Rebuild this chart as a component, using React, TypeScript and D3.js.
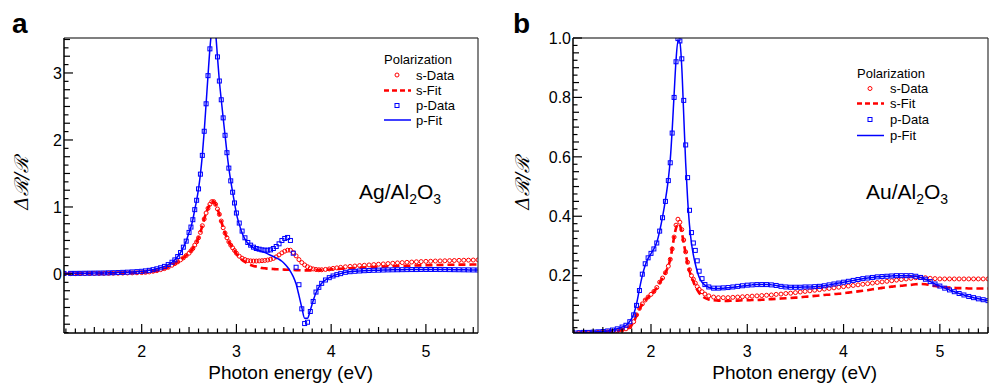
import React from "react";
import * as d3 from "d3";

// ---------------- Panel a (Ag/Al2O3) ----------------
const energiesA = [
  1.18, 1.25, 1.30, 1.35, 1.40, 1.45, 1.50, 1.55, 1.60, 1.65, 1.70, 1.75, 1.80, 1.85, 1.90, 1.95, 2.00,
  2.04, 2.08, 2.12, 2.16, 2.20, 2.24, 2.28, 2.32,
  2.35, 2.38, 2.41, 2.44, 2.47, 2.50,
  2.52, 2.54, 2.56, 2.58, 2.60, 2.62, 2.64, 2.66, 2.68, 2.70,
  2.72, 2.74, 2.76, 2.78, 2.80, 2.82, 2.84, 2.86, 2.88, 2.90,
  2.92, 2.94, 2.96, 2.98, 3.00,
  3.03, 3.06, 3.09, 3.12, 3.15, 3.18, 3.21, 3.24, 3.27, 3.30,
  3.33, 3.36, 3.39, 3.42, 3.45, 3.48, 3.51, 3.54, 3.57, 3.60,
  3.63, 3.66, 3.69, 3.72, 3.75, 3.78, 3.81, 3.84, 3.87, 3.90,
  3.94, 3.98, 4.02, 4.06, 4.10,
  4.15, 4.20, 4.25, 4.30, 4.35, 4.40, 4.45, 4.50, 4.55, 4.60,
  4.65, 4.70, 4.75, 4.80, 4.85, 4.90, 4.95, 5.00, 5.05, 5.10,
  5.15, 5.20, 5.25, 5.30, 5.35, 5.40, 5.45, 5.50, 5.55,
];

const sDataA = [
  0.004, 0.005, 0.005, 0.006, 0.006, 0.007, 0.008, 0.008, 0.009, 0.010, 0.011, 0.012, 0.013, 0.015, 0.016, 0.018, 0.021,
  0.025, 0.031, 0.040, 0.050, 0.065, 0.080, 0.100, 0.130,
  0.155, 0.180, 0.210, 0.240, 0.275, 0.310,
  0.345, 0.380, 0.430, 0.480, 0.540, 0.620, 0.720, 0.820, 0.910, 0.980,
  1.040, 1.080, 1.080, 1.040, 0.970, 0.890, 0.790, 0.690, 0.610, 0.540,
  0.480, 0.430, 0.390, 0.350, 0.310,
  0.265, 0.235, 0.215, 0.200, 0.195, 0.193, 0.193, 0.195, 0.198, 0.202,
  0.208, 0.218, 0.232, 0.255, 0.285, 0.315, 0.340, 0.355, 0.355, 0.320,
  0.270, 0.215, 0.170, 0.135, 0.108, 0.088, 0.075, 0.067, 0.063, 0.063,
  0.068, 0.075, 0.083, 0.091, 0.099,
  0.107, 0.113, 0.119, 0.125, 0.130, 0.135, 0.140, 0.145, 0.150, 0.155,
  0.160, 0.165, 0.170, 0.174, 0.178, 0.182, 0.185, 0.188, 0.190, 0.193,
  0.195, 0.197, 0.199, 0.201, 0.203, 0.205, 0.206, 0.208, 0.210,
];

const sFitA = [
  0.004, 0.005, 0.005, 0.006, 0.006, 0.007, 0.008, 0.008, 0.009, 0.010, 0.011, 0.012, 0.013, 0.015, 0.016, 0.018, 0.021,
  0.025, 0.031, 0.040, 0.050, 0.065, 0.080, 0.100, 0.130,
  0.155, 0.180, 0.210, 0.240, 0.275, 0.310,
  0.345, 0.380, 0.430, 0.480, 0.540, 0.620, 0.720, 0.820, 0.910, 0.980,
  1.040, 1.080, 1.080, 1.040, 0.970, 0.890, 0.790, 0.690, 0.610, 0.540,
  0.480, 0.430, 0.390, 0.350, 0.300,
  0.250, 0.210, 0.180, 0.155, 0.135, 0.120, 0.110, 0.100, 0.090, 0.085,
  0.080, 0.077, 0.074, 0.071, 0.069, 0.067, 0.065, 0.063, 0.061, 0.059,
  0.057, 0.056, 0.055, 0.054, 0.054, 0.054, 0.055, 0.056, 0.058, 0.060,
  0.063, 0.066, 0.070, 0.073, 0.077,
  0.081, 0.085, 0.089, 0.093, 0.097, 0.100, 0.104, 0.107, 0.110, 0.113,
  0.116, 0.118, 0.121, 0.123, 0.125, 0.127, 0.129, 0.131, 0.132, 0.134,
  0.135, 0.136, 0.137, 0.138, 0.139, 0.140, 0.140, 0.141, 0.142,
];

const pDataA = [
  0.008, 0.009, 0.009, 0.010, 0.011, 0.012, 0.013, 0.014, 0.015, 0.017, 0.019, 0.021, 0.024, 0.027, 0.031, 0.035, 0.040,
  0.046, 0.054, 0.064, 0.077, 0.093, 0.113, 0.140, 0.175,
  0.210, 0.260, 0.320, 0.400, 0.490, 0.620,
  0.700, 0.810, 0.960, 1.100, 1.270, 1.490, 1.770, 2.130, 2.540, 2.960,
  3.360, 3.650, 3.750, 3.600, 3.240, 2.880, 2.600, 2.330, 2.070, 1.810,
  1.580, 1.390, 1.220, 1.060, 0.910,
  0.760, 0.640, 0.540, 0.470, 0.430, 0.400, 0.380, 0.370, 0.360, 0.355,
  0.355, 0.360, 0.380, 0.410, 0.450, 0.500, 0.530, 0.545, 0.500, 0.310,
  0.100, -0.160, -0.520, -0.740, -0.720, -0.560, -0.410, -0.270, -0.200, -0.140,
  -0.090, -0.055, -0.030, -0.010, 0.005,
  0.025, 0.034, 0.040, 0.045, 0.049, 0.052, 0.055, 0.057, 0.059, 0.061,
  0.062, 0.063, 0.064, 0.065, 0.066, 0.066, 0.067, 0.067, 0.067, 0.067,
  0.066, 0.066, 0.065, 0.064, 0.063, 0.062, 0.061, 0.060, 0.059,
];

const pFitA = [
  0.008, 0.009, 0.009, 0.010, 0.011, 0.012, 0.013, 0.014, 0.015, 0.017, 0.019, 0.021, 0.024, 0.027, 0.031, 0.035, 0.040,
  0.046, 0.054, 0.064, 0.077, 0.093, 0.113, 0.140, 0.175,
  0.210, 0.260, 0.320, 0.400, 0.490, 0.620,
  0.700, 0.810, 0.960, 1.100, 1.270, 1.490, 1.770, 2.130, 2.540, 2.960,
  3.360, 3.650, 3.750, 3.600, 3.240, 2.880, 2.600, 2.330, 2.070, 1.810,
  1.580, 1.390, 1.220, 1.060, 0.900,
  0.740, 0.610, 0.520, 0.460, 0.420, 0.390, 0.370, 0.350, 0.335, 0.320,
  0.300, 0.280, 0.260, 0.240, 0.220, 0.190, 0.150, 0.100, 0.040, -0.040,
  -0.150, -0.320, -0.500, -0.660, -0.660, -0.540, -0.400, -0.280, -0.200, -0.140,
  -0.090, -0.055, -0.030, -0.010, 0.005,
  0.025, 0.034, 0.040, 0.045, 0.049, 0.052, 0.055, 0.057, 0.059, 0.061,
  0.062, 0.063, 0.064, 0.065, 0.066, 0.066, 0.067, 0.067, 0.067, 0.067,
  0.066, 0.066, 0.065, 0.064, 0.063, 0.062, 0.061, 0.060, 0.059,
];

// ---------------- Panel b (Au/Al2O3) ----------------
const energiesB = [
  1.19, 1.25, 1.30, 1.35, 1.40, 1.45, 1.50, 1.55, 1.60, 1.65, 1.70,
  1.74, 1.78, 1.82, 1.85, 1.88, 1.91, 1.94, 1.97, 2.00, 2.03, 2.06, 2.09, 2.12, 2.15, 2.18,
  2.20, 2.22, 2.24, 2.26, 2.28, 2.30, 2.32, 2.34, 2.36, 2.38, 2.40, 2.42, 2.44, 2.46, 2.48, 2.50,
  2.53, 2.56,
  2.60, 2.65, 2.70, 2.75, 2.80, 2.85, 2.90, 2.95, 3.00,
  3.05, 3.10, 3.15, 3.20, 3.25, 3.30, 3.35, 3.40, 3.45, 3.50,
  3.55, 3.60, 3.65, 3.70, 3.75, 3.80, 3.85, 3.90, 3.95, 4.00,
  4.05, 4.10, 4.15, 4.20, 4.25, 4.30, 4.35, 4.40, 4.45, 4.50,
  4.55, 4.60, 4.65, 4.70, 4.75, 4.80, 4.85, 4.90, 4.95, 5.00,
  5.05, 5.10, 5.15, 5.20, 5.25, 5.30, 5.35, 5.40, 5.45, 5.50,
];

const sDataB = [
  0.007, 0.007, 0.007, 0.008, 0.008, 0.009, 0.010, 0.011, 0.012, 0.014, 0.017,
  0.021, 0.028, 0.045, 0.068, 0.090, 0.105, 0.118, 0.128, 0.137, 0.147, 0.160, 0.178, 0.192, 0.210, 0.232,
  0.255, 0.290, 0.330, 0.370, 0.390, 0.380, 0.355, 0.320, 0.280, 0.245, 0.220, 0.200, 0.188, 0.175, 0.163, 0.154,
  0.146, 0.138,
  0.132, 0.128, 0.126, 0.126, 0.126, 0.127, 0.128, 0.129, 0.130,
  0.131, 0.132, 0.133, 0.134, 0.135, 0.137, 0.138, 0.140, 0.141, 0.143,
  0.145, 0.147, 0.149, 0.151, 0.153, 0.155, 0.157, 0.159, 0.161, 0.163,
  0.165, 0.167, 0.169, 0.171, 0.173, 0.175, 0.177, 0.179, 0.181, 0.183,
  0.185, 0.187, 0.189, 0.191, 0.193, 0.194, 0.193, 0.191, 0.190, 0.189,
  0.189, 0.189, 0.189, 0.189, 0.189, 0.189, 0.189, 0.189, 0.189, 0.189,
];

const sFitB = [
  0.007, 0.007, 0.007, 0.008, 0.008, 0.009, 0.010, 0.011, 0.012, 0.014, 0.017,
  0.021, 0.028, 0.044, 0.066, 0.088, 0.104, 0.117, 0.127, 0.136, 0.146, 0.159, 0.176, 0.192, 0.210, 0.232,
  0.255, 0.290, 0.330, 0.360, 0.375, 0.370, 0.345, 0.310, 0.275, 0.240, 0.215, 0.196, 0.180, 0.165, 0.152, 0.142,
  0.132, 0.125,
  0.120, 0.117, 0.116, 0.115, 0.115, 0.116, 0.116, 0.117, 0.117,
  0.118, 0.118, 0.119, 0.120, 0.121, 0.122, 0.123, 0.124, 0.125, 0.126,
  0.127, 0.129, 0.130, 0.132, 0.133, 0.135, 0.136, 0.138, 0.139, 0.141,
  0.143, 0.145, 0.147, 0.149, 0.151, 0.154, 0.156, 0.159, 0.161, 0.163,
  0.165, 0.166, 0.168, 0.169, 0.171, 0.172, 0.171, 0.168, 0.165, 0.163,
  0.161, 0.160, 0.159, 0.158, 0.158, 0.157, 0.157, 0.157, 0.157, 0.157,
];

const pDataB = [
  0.008, 0.008, 0.009, 0.009, 0.010, 0.011, 0.012, 0.014, 0.017, 0.021, 0.027,
  0.033, 0.045, 0.068, 0.100, 0.150, 0.205, 0.240, 0.260, 0.275, 0.290, 0.310, 0.350, 0.395, 0.450, 0.520,
  0.580, 0.680, 0.800, 0.920, 0.998, 0.990, 0.930, 0.790, 0.640, 0.530, 0.420, 0.345, 0.310, 0.285, 0.250, 0.215,
  0.190, 0.170,
  0.162, 0.158, 0.158, 0.159, 0.160, 0.162, 0.164, 0.166, 0.168,
  0.169, 0.170, 0.170, 0.170, 0.169, 0.167, 0.164, 0.162, 0.161, 0.161,
  0.161, 0.162, 0.162, 0.163, 0.164, 0.166, 0.169, 0.172, 0.175, 0.178,
  0.181, 0.184, 0.187, 0.190, 0.192, 0.194, 0.196, 0.197, 0.198, 0.199,
  0.200, 0.200, 0.200, 0.200, 0.198, 0.194, 0.188, 0.180, 0.172, 0.165,
  0.158, 0.152, 0.146, 0.140, 0.135, 0.130, 0.126, 0.122, 0.119, 0.116,
];

const pFitB = [
  0.008, 0.008, 0.009, 0.009, 0.010, 0.011, 0.012, 0.014, 0.017, 0.021, 0.027,
  0.033, 0.046, 0.070, 0.105, 0.155, 0.200, 0.235, 0.258, 0.274, 0.290, 0.312, 0.350, 0.398, 0.455, 0.525,
  0.590, 0.690, 0.810, 0.925, 0.990, 0.985, 0.900, 0.740, 0.580, 0.460, 0.370, 0.310, 0.270, 0.240, 0.215, 0.195,
  0.178, 0.168,
  0.161, 0.157, 0.157, 0.158, 0.159, 0.161, 0.163, 0.165, 0.167,
  0.169, 0.170, 0.170, 0.170, 0.169, 0.167, 0.164, 0.162, 0.161, 0.161,
  0.161, 0.162, 0.162, 0.163, 0.164, 0.166, 0.169, 0.172, 0.175, 0.178,
  0.181, 0.184, 0.187, 0.190, 0.192, 0.194, 0.196, 0.197, 0.198, 0.199,
  0.200, 0.200, 0.200, 0.200, 0.198, 0.194, 0.188, 0.180, 0.172, 0.165,
  0.158, 0.152, 0.146, 0.140, 0.135, 0.130, 0.126, 0.122, 0.119, 0.116,
];

const xTickLabels = [2, 3, 4, 5];
const yTickLabelsA = [0, 1, 2, 3];
const yTickLabelsB = [0.2, 0.4, 0.6, 0.8, 1.0];
const legendLabels = ["s-Data", "s-Fit", "p-Data", "p-Fit"];

const RED = "#ff0000";
const BLUE = "#0000ff";
const FONT = "'Liberation Sans', Arial, Helvetica, sans-serif";

type PanelCfg = {
  id: string;
  letter: string;
  letterX: number;
  left: number;
  top: number;
  right: number;
  bottom: number;
  xDomain: [number, number];
  yDomain: [number, number];
  yMajor: number;
  yLabels: number[];
  yFmt: (v: number) => string;
  energies: number[];
  sData: number[];
  sFit: number[];
  pData: number[];
  pFit: number[];
  yTitleX: number;
  xTitleEnd: number;
  metal: string;
  annX: number;
  leg: { x0: number; x1: number; mx: number; tx: number; title: number; rows: number[] };
};

function Panel({ c }: { c: PanelCfg }) {
  const x = d3.scaleLinear().domain(c.xDomain).range([c.left, c.right]);
  const y = d3.scaleLinear().domain(c.yDomain).range([c.bottom, c.top]);
  const n = c.energies.length;
  const pts = (vals: number[]) =>
    c.energies.slice(0, Math.min(n, vals.length)).map((e, i) => [e, vals[i]] as [number, number]);
  const line = d3
    .line<[number, number]>()
    .x((d) => x(d[0]))
    .y((d) => y(d[1]))
    .curve(d3.curveMonotoneX);
  const inY = (v: number) => v >= c.yDomain[0] && v <= c.yDomain[1] + 1e-9;

  const xt = d3.range(Math.ceil(c.xDomain[0] * 10 - 1e-9), Math.floor(c.xDomain[1] * 10 + 1e-9) + 1);
  const ystep = c.yMajor / 8;
  const yt = d3.range(
    Math.ceil(c.yDomain[0] / ystep - 1e-9),
    Math.floor(c.yDomain[1] / ystep + 1e-9) + 1
  );
  const clip = `clip-${c.id}`;

  return (
    <g>
      <defs>
        <clipPath id={clip}>
          <rect x={c.left} y={c.top} width={c.right - c.left} height={c.bottom - c.top} />
        </clipPath>
      </defs>
      <text x={c.letterX} y={33} fontFamily={FONT} fontWeight="bold" fontSize={28} fill="#000">
        {c.letter}
      </text>

      <g clipPath={`url(#${clip})`}>
        {pts(c.sData)
          .filter((d) => inY(d[1]))
          .map((d, i) => (
            <circle key={"s" + i} cx={x(d[0])} cy={y(d[1])} r={2} fill="none" stroke={RED} strokeWidth={1} />
          ))}
        <path d={line(pts(c.sFit)) || ""} fill="none" stroke={RED} strokeWidth={2.6} strokeDasharray="7,4" />
        {pts(c.pData)
          .filter((d) => inY(d[1]))
          .map((d, i) => (
            <rect
              key={"p" + i}
              x={x(d[0]) - 2}
              y={y(d[1]) - 2}
              width={4}
              height={4}
              fill="none"
              stroke={BLUE}
              strokeWidth={1}
            />
          ))}
        <path d={line(pts(c.pFit)) || ""} fill="none" stroke={BLUE} strokeWidth={1.5} />
      </g>

      <line x1={c.left} x2={c.right} y1={c.top} y2={c.top} stroke="#000" strokeWidth={1.2} />
      <line x1={c.right} x2={c.right} y1={c.top} y2={c.bottom} stroke="#333" strokeWidth={1.2} />
      <line x1={c.left} x2={c.left} y1={c.top} y2={c.bottom} stroke="#000" strokeWidth={1.5} />
      <line x1={c.left} x2={c.right} y1={c.bottom} y2={c.bottom} stroke="#000" strokeWidth={1.5} />

      {xt.map((i) => {
        const len = i % 10 === 0 ? 9 : i % 5 === 0 ? 6 : 4.5;
        const px = x(i / 10);
        return <line key={"xt" + i} x1={px} x2={px} y1={c.bottom} y2={c.bottom - len} stroke="#000" strokeWidth={1.2} />;
      })}
      {xTickLabels.map((v) => (
        <text key={"xl" + v} x={x(v)} y={357} textAnchor="middle" fontFamily={FONT} fontSize={16} fill="#000">
          {v}
        </text>
      ))}

      {yt.map((i) => {
        const len = i % 8 === 0 ? 9 : i % 2 === 0 ? 6 : 4.5;
        const py = y(i * ystep);
        return <line key={"yt" + i} x1={c.left} x2={c.left + len} y1={py} y2={py} stroke="#000" strokeWidth={1.2} />;
      })}
      {c.yLabels.map((v) => (
        <text
          key={"yl" + v}
          x={c.left - 2}
          y={y(v)}
          dy="0.36em"
          textAnchor="end"
          fontFamily={FONT}
          fontSize={16}
          fill="#000"
        >
          {c.yFmt(v)}
        </text>
      ))}

      <text x={c.xTitleEnd} y={379} textAnchor="end" fontFamily={FONT} fontSize={19} fill="#000">
        Photon energy (eV)
      </text>
      <text
        transform={`translate(${c.yTitleX},183) rotate(-90)`}
        textAnchor="middle"
        fontFamily="'DejaVu Serif', serif"
        fontStyle="italic"
        fontSize={19}
        fill="#000"
      >
        Δℛ/ℛ
      </text>

      <text x={c.annX} y={199} fontFamily={FONT} fontSize={21} fill="#000">
        {c.metal}/Al
        <tspan fontSize={14} dy={5}>2</tspan>
        <tspan dy={-5}>O</tspan>
        <tspan fontSize={14} dy={5}>3</tspan>
      </text>

      <g fontFamily={FONT} fontSize={13} fill="#000">
        <text x={c.leg.x0} y={c.leg.title}>Polarization</text>
        {legendLabels.map((lab, k) => (
          <text key={lab} x={c.leg.tx} y={c.leg.rows[k] + 4.5}>
            {lab}
          </text>
        ))}
      </g>
      <circle cx={c.leg.mx} cy={c.leg.rows[0]} r={2} fill="none" stroke={RED} strokeWidth={1} />
      <line
        x1={c.leg.x0}
        x2={c.leg.x1}
        y1={c.leg.rows[1]}
        y2={c.leg.rows[1]}
        stroke={RED}
        strokeWidth={2.6}
        strokeDasharray="5,3"
      />
      <rect x={c.leg.mx - 2} y={c.leg.rows[2] - 2} width={4} height={4} fill="none" stroke={BLUE} strokeWidth={1} />
      <line x1={c.leg.x0} x2={c.leg.x1} y1={c.leg.rows[3]} y2={c.leg.rows[3]} stroke={BLUE} strokeWidth={1.5} />
    </g>
  );
}

const panelA: PanelCfg = {
  id: "a",
  letter: "a",
  letterX: 12,
  left: 64,
  top: 38,
  right: 478,
  bottom: 333,
  xDomain: [1.18, 5.55],
  yDomain: [-0.881, 3.522],
  yMajor: 1,
  yLabels: yTickLabelsA,
  yFmt: (v) => String(v),
  energies: energiesA,
  sData: sDataA,
  sFit: sFitA,
  pData: pDataA,
  pFit: pFitA,
  yTitleX: 28,
  xTitleEnd: 373,
  metal: "Ag",
  annX: 359,
  leg: { x0: 384, x1: 411, mx: 397, tx: 416, title: 64, rows: [75, 90.5, 105.5, 120] },
};

const panelB: PanelCfg = {
  id: "b",
  letter: "b",
  letterX: 513,
  left: 573,
  top: 38,
  right: 988,
  bottom: 333,
  xDomain: [1.19, 5.5],
  yDomain: [0.007, 1.0],
  yMajor: 0.2,
  yLabels: yTickLabelsB,
  yFmt: (v) => v.toFixed(1),
  energies: energiesB,
  sData: sDataB,
  sFit: sFitB,
  pData: pDataB,
  pFit: pFitB,
  yTitleX: 529,
  xTitleEnd: 877,
  metal: "Au",
  annX: 866,
  leg: { x0: 857, x1: 884, mx: 870, tx: 890, title: 77.5, rows: [88.5, 103.5, 119.5, 135.5] },
};

export default function App() {
  return (
    <svg
      width={990}
      height={385}
      viewBox="0 0 990 385"
      style={{ position: "absolute", left: 0, top: 0, background: "#fff" }}
    >
      <rect x={0} y={0} width={990} height={385} fill="#fff" />
      <Panel c={panelA} />
      <Panel c={panelB} />
    </svg>
  );
}
